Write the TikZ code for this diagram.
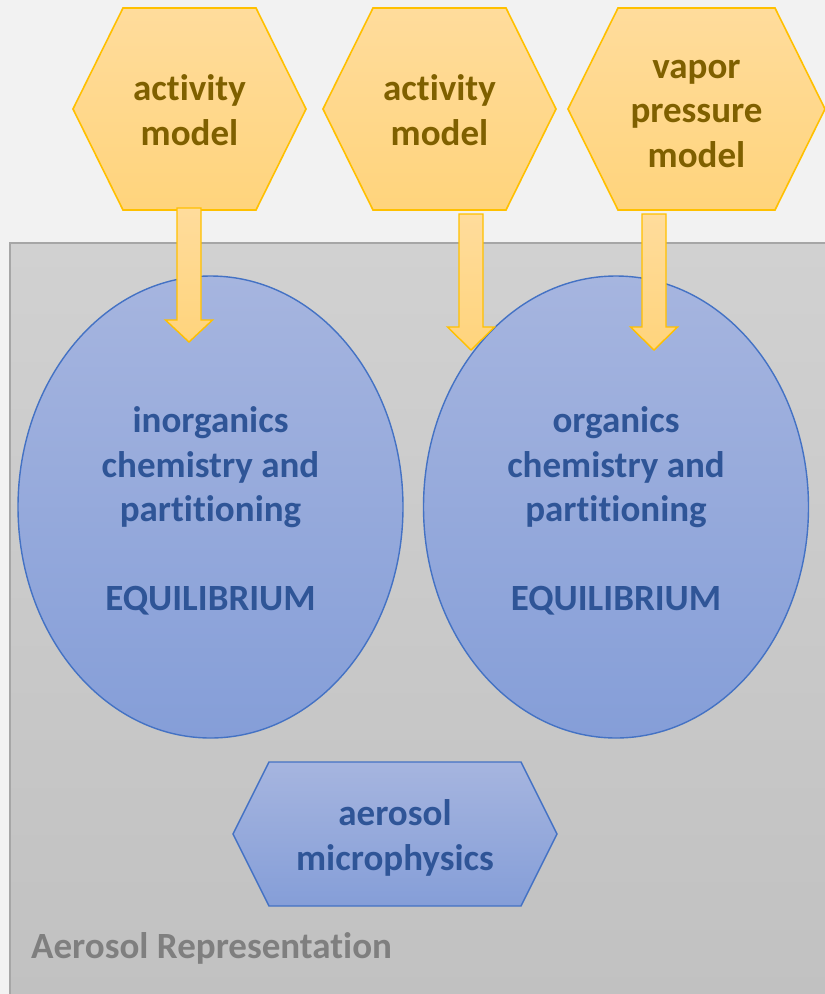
\documentclass[tikz,border=0pt]{standalone}
\usepackage{fontspec}
\setmainfont{Carlito}[Ligatures=NoCommon]
\usetikzlibrary{shapes.geometric}
\definecolor{pagebg}{HTML}{F2F2F2}
\definecolor{panelline}{HTML}{A6A6A6}
\definecolor{paneltop}{HTML}{D1D1D1}
\definecolor{panelbot}{HTML}{C1C1C1}
\definecolor{goldline}{HTML}{FFC000}
\definecolor{goldtop}{HTML}{FFDC9C}
\definecolor{goldbot}{HTML}{FFD47C}
\definecolor{goldtext}{HTML}{7F6000}
\definecolor{blueline}{HTML}{4472C4}
\definecolor{bluetop}{HTML}{A6B5DF}
\definecolor{bluebot}{HTML}{859ED8}
\definecolor{bluetext}{HTML}{2F5597}
\definecolor{graytext}{HTML}{7F7F7F}
% hexagon with pointed left and right ends: #1 centre x, #2 centre y,
% #3 half width, #4 half height, #5 inset of the top edge
\newcommand\hexpath[5]{(#1-#3,#2) -- (#1-#3+#5,#2-#4) -- (#1+#3-#5,#2-#4)
  -- (#1+#3,#2) -- (#1+#3-#5,#2+#4) -- (#1-#3+#5,#2+#4) -- cycle}
% block arrow pointing down from (#1,#2) to the tip (#1,#4); head starts at #3
\newcommand\blockarrow[4]{(#1-12,#2) -- (#1+12,#2) -- (#1+12,#3) -- (#1+23.5,#3)
  -- (#1,#4) -- (#1-23.5,#3) -- (#1-12,#3) -- cycle}
\begin{document}
\begin{tikzpicture}[x=1pt,y=-1pt,
  label text/.style={font=\fontsize{37}{44.5}\selectfont\bfseries, align=center, inner sep=0pt},
  goldshape/.style={draw=goldline, line width=1.6pt, top color=goldtop, bottom color=goldbot, line join=miter},
  blueshape/.style={draw=blueline, line width=1.4pt, top color=bluetop, bottom color=bluebot},
  goldlabel/.style={label text, text=goldtext},
  bluelabel/.style={label text, text=bluetext}]
\useasboundingbox (0,0) rectangle (825,994);
\clip (0,0) rectangle (825,994);
\fill[pagebg] (0,0) rectangle (825,994);

% panel holding the aerosol processes
\path[top color=paneltop, bottom color=panelbot] (10,243) rectangle (830,1000);
\draw[panelline, line width=2pt] (10,1000) -- (10,243) -- (830,243);
\node[anchor=west, font=\fontsize{37}{44}\selectfont\bfseries, text=graytext, inner sep=0pt]
  (panel) at (31,948) {Aerosol Representation};

% equilibrium modules
\node[ellipse, blueshape, minimum width=385, minimum height=462, inner sep=0pt]
  (inorg) at (210.5,507) {};
\node[bluelabel] (inorgtxt) at (210.5,511)
  {inorganics\\chemistry and\\partitioning\\[44.5pt]EQUILIBRIUM};
\node[ellipse, blueshape, minimum width=385, minimum height=462, inner sep=0pt]
  (org) at (616,507) {};
\node[bluelabel] (orgtxt) at (616,511)
  {organics\\chemistry and\\partitioning\\[44.5pt]EQUILIBRIUM};

% microphysics module
\path[blueshape] \hexpath{395}{834}{162}{72}{36};
\node[bluelabel] (micro) at (395,838) {aerosol\\microphysics};

% thermodynamic model inputs
\path[goldshape] \hexpath{189.5}{109}{116.5}{101}{50};
\node[goldlabel] (act1) at (189.5,110) {activity\\model};
\path[goldshape] \hexpath{439.5}{109}{116.5}{101}{50};
\node[goldlabel] (act2) at (439.5,110) {activity\\model};
\path[goldshape] \hexpath{696.5}{109}{128.5}{101}{50};
\node[goldlabel] (vap) at (696.5,113.5) {vapor\\pressure\\model};

% arrows feeding the equilibrium modules
\path[goldshape, line width=1.4pt] \blockarrow{189}{208}{320}{342};
\path[goldshape, line width=1.4pt] \blockarrow{471}{214}{327}{350};
\path[goldshape, line width=1.4pt] \blockarrow{654}{214}{327}{350};
\end{tikzpicture}
\end{document}
